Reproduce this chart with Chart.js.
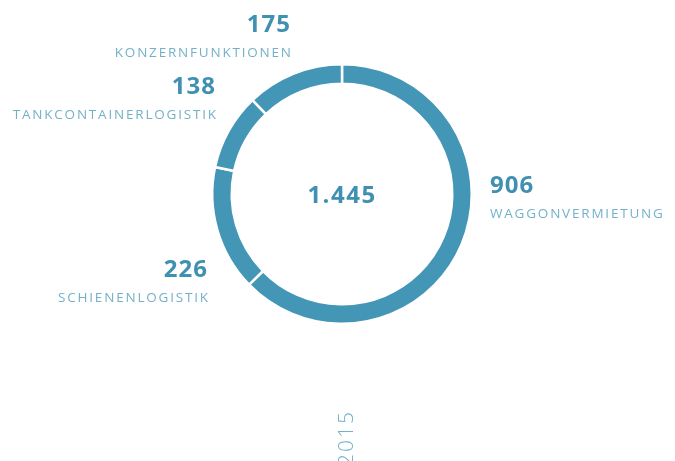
<!DOCTYPE html>
<html>
<head>
<meta charset="utf-8">
<script src="https://cdn.jsdelivr.net/npm/chart.js@4/dist/chart.umd.min.js"></script>
<style>
  html, body { margin: 0; padding: 0; background: #fff; }
  #wrap { width: 675px; height: 461px; position: relative; }
</style>
</head>
<body>
<div id="wrap"><canvas id="chart"></canvas></div>
<script>
// Umsatz nach Segmenten 2015
const categories = ['WAGGONVERMIETUNG', 'SCHIENENLOGISTIK', 'TANKCONTAINERLOGISTIK', 'KONZERNFUNKTIONEN'];
const values = [906, 226, 138, 175];
const totalLabel = '1.445';
const yearLabel = '2015';

const ringColor = '#4396b6';
const numColor = '#3f90b1';
const textColor = '#74b1c9';

// where each label sits (x, y of the number's baseline, alignment)
const labelPos = [
  { x: 490, y: 193, align: 'left' },
  { x: 208, y: 277, align: 'right' },
  { x: 216, y: 94, align: 'right' },
  { x: 291, y: 32, align: 'right' }
];

const labelsPlugin = {
  id: 'labels',
  afterDraw(chart) {
    const ctx = chart.ctx;
    const meta = chart.getDatasetMeta(0);
    const arc = meta.data[0];
    ctx.save();
    categories.forEach((cat, i) => {
      const p = labelPos[i];
      ctx.textAlign = p.align;
      ctx.textBaseline = 'alphabetic';
      ctx.letterSpacing = '1px';
      ctx.fillStyle = numColor;
      ctx.font = 'bold 24px "Open Sans", sans-serif';
      ctx.fillText(String(values[i]), p.x, p.y);
      ctx.letterSpacing = '1.8px';
      ctx.fillStyle = textColor;
      ctx.font = '13.5px "Open Sans", sans-serif';
      // trailing letter spacing shifts right-aligned text; compensate
      const dx = p.align === 'right' ? 1.8 : 0;
      ctx.fillText(cat, p.x + dx, p.y + 25);
    });
    // total in the middle
    ctx.textAlign = 'center';
    ctx.letterSpacing = '1.5px';
    ctx.fillStyle = numColor;
    ctx.font = 'bold 24px "Open Sans", sans-serif';
    ctx.fillText(totalLabel, arc.x, arc.y + 9);
    // year, rotated
    ctx.translate(353, 466);
    ctx.rotate(-Math.PI / 2);
    ctx.textAlign = 'left';
    ctx.letterSpacing = '2px';
    ctx.fillStyle = textColor;
    ctx.font = '300 21px "Open Sans", sans-serif';
    ctx.fillText(yearLabel, 0, 0);
    ctx.restore();
  }
};

new Chart(document.getElementById('chart'), {
  type: 'doughnut',
  data: {
    labels: categories,
    datasets: [{
      data: values,
      backgroundColor: ringColor,
      borderColor: '#ffffff',
      borderWidth: 2.5,
      hoverOffset: 0
    }]
  },
  options: {
    responsive: true,
    maintainAspectRatio: false,
    animation: false,
    cutout: '85%',
    layout: { padding: { left: 211, right: 202, top: 63, bottom: 136 } },
    plugins: {
      legend: { display: false },
      tooltip: { enabled: false }
    }
  },
  plugins: [labelsPlugin]
});
</script>
</body>
</html>
